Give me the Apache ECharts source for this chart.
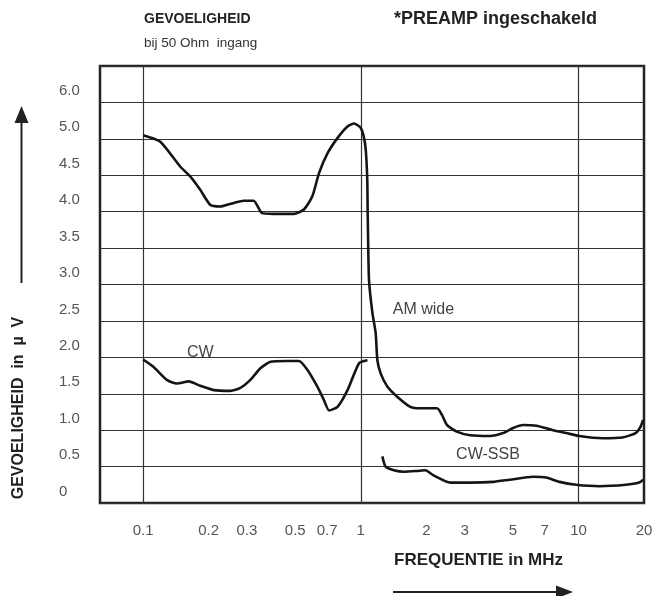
<!DOCTYPE html>
<html><head><meta charset="utf-8">
<script src="https://cdn.jsdelivr.net/npm/echarts@6/dist/echarts.min.js"></script>
<style>html,body{margin:0;padding:0;background:#fff}#c{width:657px;height:596px}</style>
</head><body><div id="c"></div>
<script>
// Sensitivity (µV) against frequency (MHz)
const amWideFreq = [0.1, 0.12, 0.148, 0.165, 0.183, 0.204, 0.226, 0.261, 0.29, 0.322, 0.352, 0.398, 0.493, 0.548, 0.599, 0.643, 0.703, 0.781, 0.869, 0.932, 1.0, 1.032, 1.054, 1.071, 1.076, 1.091, 1.131, 1.171, 1.192, 1.234, 1.324, 1.47, 1.69, 1.88, 2.24, 2.36, 2.49, 2.76, 3.18, 3.92, 4.51, 5.01, 5.57, 6.41, 7.63, 8.79, 10.1, 12.9, 15.9, 18.3, 19.3, 19.8];
const amWideUv   = [5.05, 4.96, 4.62, 4.48, 4.30, 4.09, 4.07, 4.12, 4.15, 4.15, 3.98, 3.97, 3.97, 4.03, 4.21, 4.53, 4.80, 5.01, 5.17, 5.21, 5.15, 5.03, 4.85, 4.44, 3.98, 3.06, 2.61, 2.33, 1.96, 1.78, 1.60, 1.46, 1.32, 1.30, 1.30, 1.21, 1.07, 0.98, 0.93, 0.92, 0.96, 1.03, 1.07, 1.06, 1.00, 0.96, 0.92, 0.89, 0.90, 0.96, 1.05, 1.14];
const cwFreq = [0.1, 0.1115, 0.1285, 0.143, 0.162, 0.183, 0.211, 0.252, 0.28, 0.311, 0.346, 0.385, 0.459, 0.52, 0.568, 0.631, 0.678, 0.715, 0.782, 0.869, 0.982, 1.073];
const cwUv   = [1.97, 1.87, 1.69, 1.64, 1.67, 1.61, 1.55, 1.54, 1.58, 1.69, 1.85, 1.94, 1.95, 1.95, 1.83, 1.60, 1.41, 1.27, 1.32, 1.55, 1.92, 1.96];
const cwSsbFreq = [1.256, 1.30, 1.42, 1.58, 1.81, 1.98, 2.16, 2.58, 3.18, 4.06, 4.84, 6.18, 7.12, 8.19, 9.76, 12.5, 16.5, 19.0, 19.8];
const cwSsbUv   = [0.64, 0.50, 0.45, 0.43, 0.44, 0.45, 0.38, 0.28, 0.28, 0.29, 0.32, 0.36, 0.35, 0.29, 0.25, 0.23, 0.25, 0.28, 0.32];

const seriesNames = ['AM wide', 'CW', 'CW-SSB'];
const seriesLabelFreq = [1.94, 0.183, 3.84];
const seriesLabelUv = [2.66, 2.06, 0.66];

const xTickValues = [0.1, 0.2, 0.3, 0.5, 0.7, 1, 2, 3, 5, 7, 10, 20];
const xTickLabels = ['0.1', '0.2', '0.3', '0.5', '0.7', '1', '2', '3', '5', '7', '10', '20'];
const xGridValues = [0.1, 1, 10];
const yTickLabels = ['0', '0.5', '1.0', '1.5', '2.0', '2.5', '3.0', '3.5', '4.0', '4.5', '5.0', '6.0', ''];

const FONT = '"Liberation Sans", Arial, Helvetica, sans-serif';
const chart = echarts.init(document.getElementById('c'), null, {renderer: 'canvas'});

function mk(freq, uv) { return freq.map((f, i) => [f, uv[i]]); }
const seriesData = [mk(amWideFreq, amWideUv), mk(cwFreq, cwUv), mk(cwSsbFreq, cwSsbUv)];

chart.setOption({
  backgroundColor: '#ffffff',
  animation: false,
  title: [
    {
      text: 'GEVOELIGHEID', subtext: 'bij 50 Ohm  ingang',
      left: 144, top: 12, padding: 0, itemGap: 10,
      textStyle: {fontFamily: FONT, fontSize: 14, fontWeight: 'bold', color: '#222'},
      subtextStyle: {fontFamily: FONT, fontSize: 13.5, color: '#333'}
    },
    {
      text: '*PREAMP ingeschakeld', left: 394, top: 10, padding: 0,
      textStyle: {fontFamily: FONT, fontSize: 18, fontWeight: 'bold', color: '#222'}
    }
  ],
  grid: {left: 100, right: 13, top: 66, bottom: 93, show: true, borderColor: '#222', borderWidth: 2.5, backgroundColor: 'transparent'},
  xAxis: {
    type: 'log', logBase: 10, min: 0.0634, max: 20,
    axisLine: {show: false},
    axisTick: {show: false, customValues: xGridValues},
    splitLine: {show: true, lineStyle: {color: '#333', width: 1.2}},
    axisLabel: {
      customValues: xTickValues, margin: 20, showMaxLabel: true,
      fontFamily: FONT, fontSize: 15, color: '#555',
      formatter: (v) => { const i = xTickValues.findIndex(t => Math.abs(t - v) / t < 1e-6); return i >= 0 ? xTickLabels[i] : ''; }
    }
  },
  yAxis: {
    type: 'value', min: 0, max: 6, interval: 0.5,
    axisLine: {show: false}, axisTick: {show: false},
    splitLine: {show: true, lineStyle: {color: '#333', width: 1.2}},
    axisLabel: {
      align: 'left', margin: 41, verticalAlign: 'bottom', padding: [0, 0, 4, 0],
      fontFamily: FONT, fontSize: 15, color: '#555',
      formatter: (v) => yTickLabels[Math.round(v / 0.5)]
    }
  },
  series: seriesData.map((d, i) => ({
    name: seriesNames[i], type: 'line', data: d, showSymbol: false, smooth: 0.2,
    lineStyle: {color: '#151515', width: 2.6}, z: 3,
    markPoint: {
      symbol: 'circle', symbolSize: 0, silent: true,
      data: [{coord: [seriesLabelFreq[i], seriesLabelUv[i]], value: seriesNames[i]}],
      label: {show: true, position: 'inside', formatter: seriesNames[i], fontFamily: FONT, fontSize: 16, color: '#444'}
    }
  })),
  graphic: [
    {type: 'text', x: 19, y: 408, rotation: Math.PI / 2,
     style: {text: 'GEVOELIGHEID  in  µ  V', font: 'bold 16px ' + FONT, fill: '#222', align: 'center', verticalAlign: 'middle'}},
    {type: 'text', x: 394, y: 560,
     style: {text: 'FREQUENTIE in MHz', font: 'bold 17px ' + FONT, fill: '#222', align: 'left', verticalAlign: 'middle'}},
    {type: 'line', shape: {x1: 21.5, y1: 283, x2: 21.5, y2: 118}, style: {stroke: '#222', lineWidth: 2}},
    {type: 'polygon', shape: {points: [[21.5, 106], [14.5, 123], [28.5, 123]]}, style: {fill: '#222'}},
    {type: 'line', shape: {x1: 393, y1: 592, x2: 560, y2: 592}, style: {stroke: '#222', lineWidth: 2}},
    {type: 'polygon', shape: {points: [[573, 592], [556, 585.5], [556, 598.5]]}, style: {fill: '#222'}}
  ]
});
</script></body></html>
